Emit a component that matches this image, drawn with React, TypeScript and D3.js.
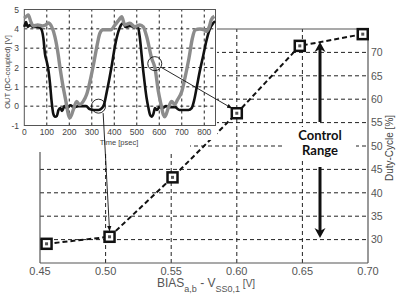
import React from "react";
import * as d3 from "d3";

// Main chart data
const biasV = [0.455, 0.503, 0.551, 0.6, 0.648, 0.696];
const dutyCycle = [29.1, 30.6, 43.3, 57.0, 71.4, 73.9];
const xTicks = [0.45, 0.5, 0.55, 0.6, 0.65, 0.7];
const yTicks = [30, 35, 40, 45, 50, 55, 60, 65, 70];

// Inset data: time [psec] vs OUT [V]
const blackT = [0, 8, 15, 25, 40, 60, 75, 85, 92, 100, 108, 114, 121, 129, 137, 145, 152, 160, 168, 178, 190, 205, 220, 240, 260, 275, 290, 310, 330, 345, 355, 366, 378, 388, 403, 418, 430, 440, 450, 470, 490, 505, 514, 522, 529, 537, 544, 552, 559, 566, 574, 581, 590, 600, 615, 630, 650, 670, 690, 710, 730, 744, 755, 766, 780, 796, 810, 825, 840, 848];
const blackV = [4.1, 4.35, 4.1, 4.2, 4.1, 4.1, 4.0, 3.5, 2.7, 2.3, 1.8, 1.2, 0.3, -0.4, -0.55, -0.5, -0.2, -0.1, -0.25, 0.0, -0.1, 0.05, -0.05, 0.0, 0.0, 0.0, -0.15, -0.2, -0.2, -0.1, 0.1, 0.7, 1.4, 2.05, 3.1, 3.85, 4.2, 4.3, 4.1, 4.15, 4.1, 4.1, 3.5, 2.6, 1.8, 1.0, 0.4, -0.1, -0.45, -0.55, -0.4, -0.1, -0.2, -0.05, -0.1, 0.0, -0.05, -0.05, -0.2, -0.2, -0.2, -0.1, 0.3, 0.95, 1.8, 2.65, 3.4, 4.0, 4.3, 4.4];
const greyT = [0, 10, 18, 28, 40, 60, 80, 95, 107, 122, 136, 151, 159, 171, 185, 196, 203, 210, 218, 233, 245, 262, 277, 292, 310, 324, 336, 350, 370, 385, 403, 420, 433, 447, 469, 492, 514, 529, 544, 566, 581, 596, 608, 618, 625, 640, 655, 668, 681, 700, 714, 732, 747, 759, 781, 800, 810, 822, 831, 845];
const greyV = [4.55, 4.65, 4.72, 4.4, 4.15, 4.2, 4.15, 4.2, 4.3, 4.1, 3.6, 2.65, 1.97, 1.1, 0.25, -0.44, -0.6, -0.45, -0.18, 0.25, 0.08, 0.25, 0.6, 1.28, 2.3, 3.17, 3.77, 3.95, 3.95, 3.95, 4.2, 4.45, 4.63, 4.2, 4.29, 4.11, 4.2, 4.1, 3.6, 2.48, 1.97, 0.76, 0.08, -0.44, -0.55, -0.1, 0.25, 0.08, 0.33, 0.76, 1.45, 2.48, 3.5, 3.94, 3.99, 3.95, 3.86, 4.1, 4.46, 4.65];
const insetXTicks = [0, 100, 200, 300, 400, 500, 600, 700, 800];
const insetYTicks = [-1, 0, 1, 2, 3, 4, 5];

// Highlight circles (inset units) and the main-chart point each links to
const circleT = [330, 580];
const circleV = [0.0, 2.2];
const circleTarget = [1, 3];

const FONT = "'Liberation Sans', Arial, sans-serif";

export default function App() {
  const x = d3.scaleLinear().domain([0.45, 0.7]).range([40, 368]);
  const y = d3.scaleLinear().domain([25, 75]).range([263, 29]);
  const tx = d3.scaleLinear().domain([0, 850]).range([24.3, 215.5]);
  const vy = d3.scaleLinear().domain([-1, 5]).range([125.5, 9.5]);

  const mainLine = d3.line<number>().x((_, i) => x(biasV[i])).y((d) => y(d))(dutyCycle) || "";
  const lineGen = d3
    .line<[number, number]>()
    .x((d) => tx(d[0]))
    .y((d) => vy(d[1]))
    .curve(d3.curveMonotoneX);
  const blackPath = lineGen(blackT.map((t, i) => [t, blackV[i]])) || "";
  const greyPath = lineGen(greyT.map((t, i) => [t, greyV[i]])) || "";

  const [x0, x1] = x.range();
  const [yb, yt] = y.range();
  const ms = 10;

  const arrowHead = (cx: number, tip: number, dir: number) => {
    const h = 10;
    const w = 5.5;
    const back = tip - dir * h;
    const notch = tip - dir * (h - 3);
    return `M${cx},${tip} L${cx - w},${back} L${cx},${notch} L${cx + w},${back} Z`;
  };

  const cx1 = 320;

  return (
    <svg width={400} height={300} style={{ position: "absolute", left: 0, top: 0, background: "#fff" }}>
      <defs>
        <marker id="ah" viewBox="0 0 10 10" refX="9" refY="5" markerWidth="6" markerHeight="6" orient="auto">
          <path d="M0,1 L10,5 L0,9 Z" fill="#111" />
        </marker>
      </defs>
      <rect x={0} y={0} width={400} height={300} fill="#fff" />

      {/* Main grid */}
      {yTicks.map((t) => (
        <line key={"hy" + t} x1={x0} x2={x1} y1={y(t)} y2={y(t)} stroke="#222" strokeWidth={1} strokeDasharray="4,3" />
      ))}
      {xTicks.slice(1, -1).map((t) => (
        <line key={"vx" + t} x1={x(t)} x2={x(t)} y1={yb} y2={yt} stroke="#222" strokeWidth={1} strokeDasharray="4,3" />
      ))}
      {/* Main axes */}
      <line x1={x0} x2={x1} y1={yb} y2={yb} stroke="#555" strokeWidth={1.2} />
      <line x1={x0} x2={x1} y1={yt} y2={yt} stroke="#555" strokeWidth={1.2} />
      <line x1={x0} x2={x0} y1={yb} y2={yt} stroke="#555" strokeWidth={1.2} />
      <line x1={x1} x2={x1} y1={yb} y2={yt} stroke="#555" strokeWidth={1.2} />

      {/* Main x tick labels */}
      {xTicks.map((t) => (
        <text key={"xl" + t} x={x(t)} y={275} textAnchor="middle" fontFamily={FONT} fontSize={11} fill="#555">
          {t.toFixed(2)}
        </text>
      ))}
      {/* Right y tick labels */}
      {yTicks.map((t) => (
        <text key={"yl" + t} x={x1 + 3} y={y(t) + 3.7} fontFamily={FONT} fontSize={10.5} fill="#555">
          {t}
        </text>
      ))}
      <text transform="translate(393,148) rotate(-90)" textAnchor="middle" fontFamily={FONT} fontSize={10} fill="#444">
        Duty-Cycle [%]
      </text>
      <text x={157} y={287} fontFamily={FONT} fontSize={12} fill="#555">
        BIAS
        <tspan fontSize={9} dy={5}>a,b</tspan>
        <tspan dy={-5}> - V</tspan>
        <tspan fontSize={9} dy={5}>SS0,1</tspan>
        <tspan dy={-5} fontSize={10}> [V]</tspan>
      </text>

      {/* Control range arrows */}
      <rect x={284} y={127} width={72} height={34} fill="#fff" />
      <line x1={cx1} x2={cx1} y1={122} y2={48} stroke="#111" strokeWidth={3} />
      <path d={arrowHead(cx1, 42, -1)} fill="#111" />
      <line x1={cx1} x2={cx1} y1={167} y2={232} stroke="#111" strokeWidth={3} />
      <path d={arrowHead(cx1, 238, 1)} fill="#111" />
      <text x={cx1} y={140} textAnchor="middle" fontFamily="Lato, 'Open Sans', sans-serif" fontWeight="bold" fontSize={13} fill="#111">
        Control
      </text>
      <text x={cx1} y={155} textAnchor="middle" fontFamily="Lato, 'Open Sans', sans-serif" fontWeight="bold" fontSize={13} fill="#111">
        Range
      </text>

      {/* Main dashed line and markers */}
      <path d={mainLine} fill="none" stroke="#111" strokeWidth={2} strokeDasharray="5,3" />
      {dutyCycle.map((d, i) => (
        <g key={"m" + i}>
          <rect x={x(biasV[i]) - ms / 2} y={y(d) - ms / 2} width={ms} height={ms} fill="#fff" stroke="#111" strokeWidth={2.5} />
          <rect x={x(biasV[i]) - 1.5} y={y(d) - 1.5} width={3} height={3} fill="#555" />
        </g>
      ))}

      {/* Inset background */}
      <rect x={0} y={0} width={217} height={140} fill="#fff" />
      <rect x={0} y={140} width={190} height={12} fill="#fff" />

      {/* Inset grid */}
      {insetXTicks.slice(1).map((t) => (
        <line key={"ix" + t} x1={tx(t)} x2={tx(t)} y1={vy(-1)} y2={vy(5)} stroke="#222" strokeWidth={1} strokeDasharray="3,3" />
      ))}
      {insetYTicks.slice(1, -1).map((t) => (
        <line key={"iy" + t} x1={tx(0)} x2={tx(850)} y1={vy(t)} y2={vy(t)} stroke="#222" strokeWidth={1} strokeDasharray="3,3" />
      ))}
      <rect x={tx(0)} y={vy(5)} width={tx(850) - tx(0)} height={vy(-1) - vy(5)} fill="none" stroke="#555" strokeWidth={1} />

      {/* Inset curves */}
      <path d={blackPath} fill="none" stroke="#111" strokeWidth={2.6} strokeLinejoin="round" />
      <path d={greyPath} fill="none" stroke="#8c8c8c" strokeWidth={3.4} strokeLinejoin="round" />

      {/* Inset tick labels */}
      {insetXTicks.map((t) => (
        <text key={"ixl" + t} x={tx(t)} y={135} textAnchor="middle" fontFamily={FONT} fontSize={8.5} fill="#444">
          {t}
        </text>
      ))}
      {insetYTicks.map((t) => (
        <text key={"iyl" + t} x={19} y={vy(t) + 3} textAnchor="end" fontFamily={FONT} fontSize={8.5} fill="#444">
          {t}
        </text>
      ))}
      <text x={119} y={145} textAnchor="middle" fontFamily={FONT} fontSize={7.5} fill="#444">
        Time [psec]
      </text>
      <text transform="translate(10,72) rotate(-90)" textAnchor="middle" fontFamily={FONT} fontSize={7.5} fill="#444">
        OUT (DC-coupled) [V]
      </text>

      {/* Highlight circles and links */}
      {circleT.map((t, i) => {
        const cx = tx(t);
        const cy = vy(circleV[i]);
        const r = 7;
        const k = circleTarget[i];
        const px = x(biasV[k]);
        const py = y(dutyCycle[k]);
        const ex = i === 0 ? px : px - ms / 2;
        const ey = i === 0 ? py - ms / 2 - 1 : py - ms / 2;
        const ang = Math.atan2(ey - cy, ex - cx);
        const sx = cx + r * Math.cos(ang) + (i === 0 ? 4 : 0);
        const sy = cy + r * Math.sin(ang);
        return (
          <g key={"c" + i}>
            <circle cx={cx} cy={cy} r={r} fill="none" stroke="#111" strokeWidth={0.9} />
            <line x1={sx} y1={sy} x2={ex} y2={ey} stroke="#111" strokeWidth={0.9} markerEnd="url(#ah)" />
          </g>
        );
      })}
    </svg>
  );
}
